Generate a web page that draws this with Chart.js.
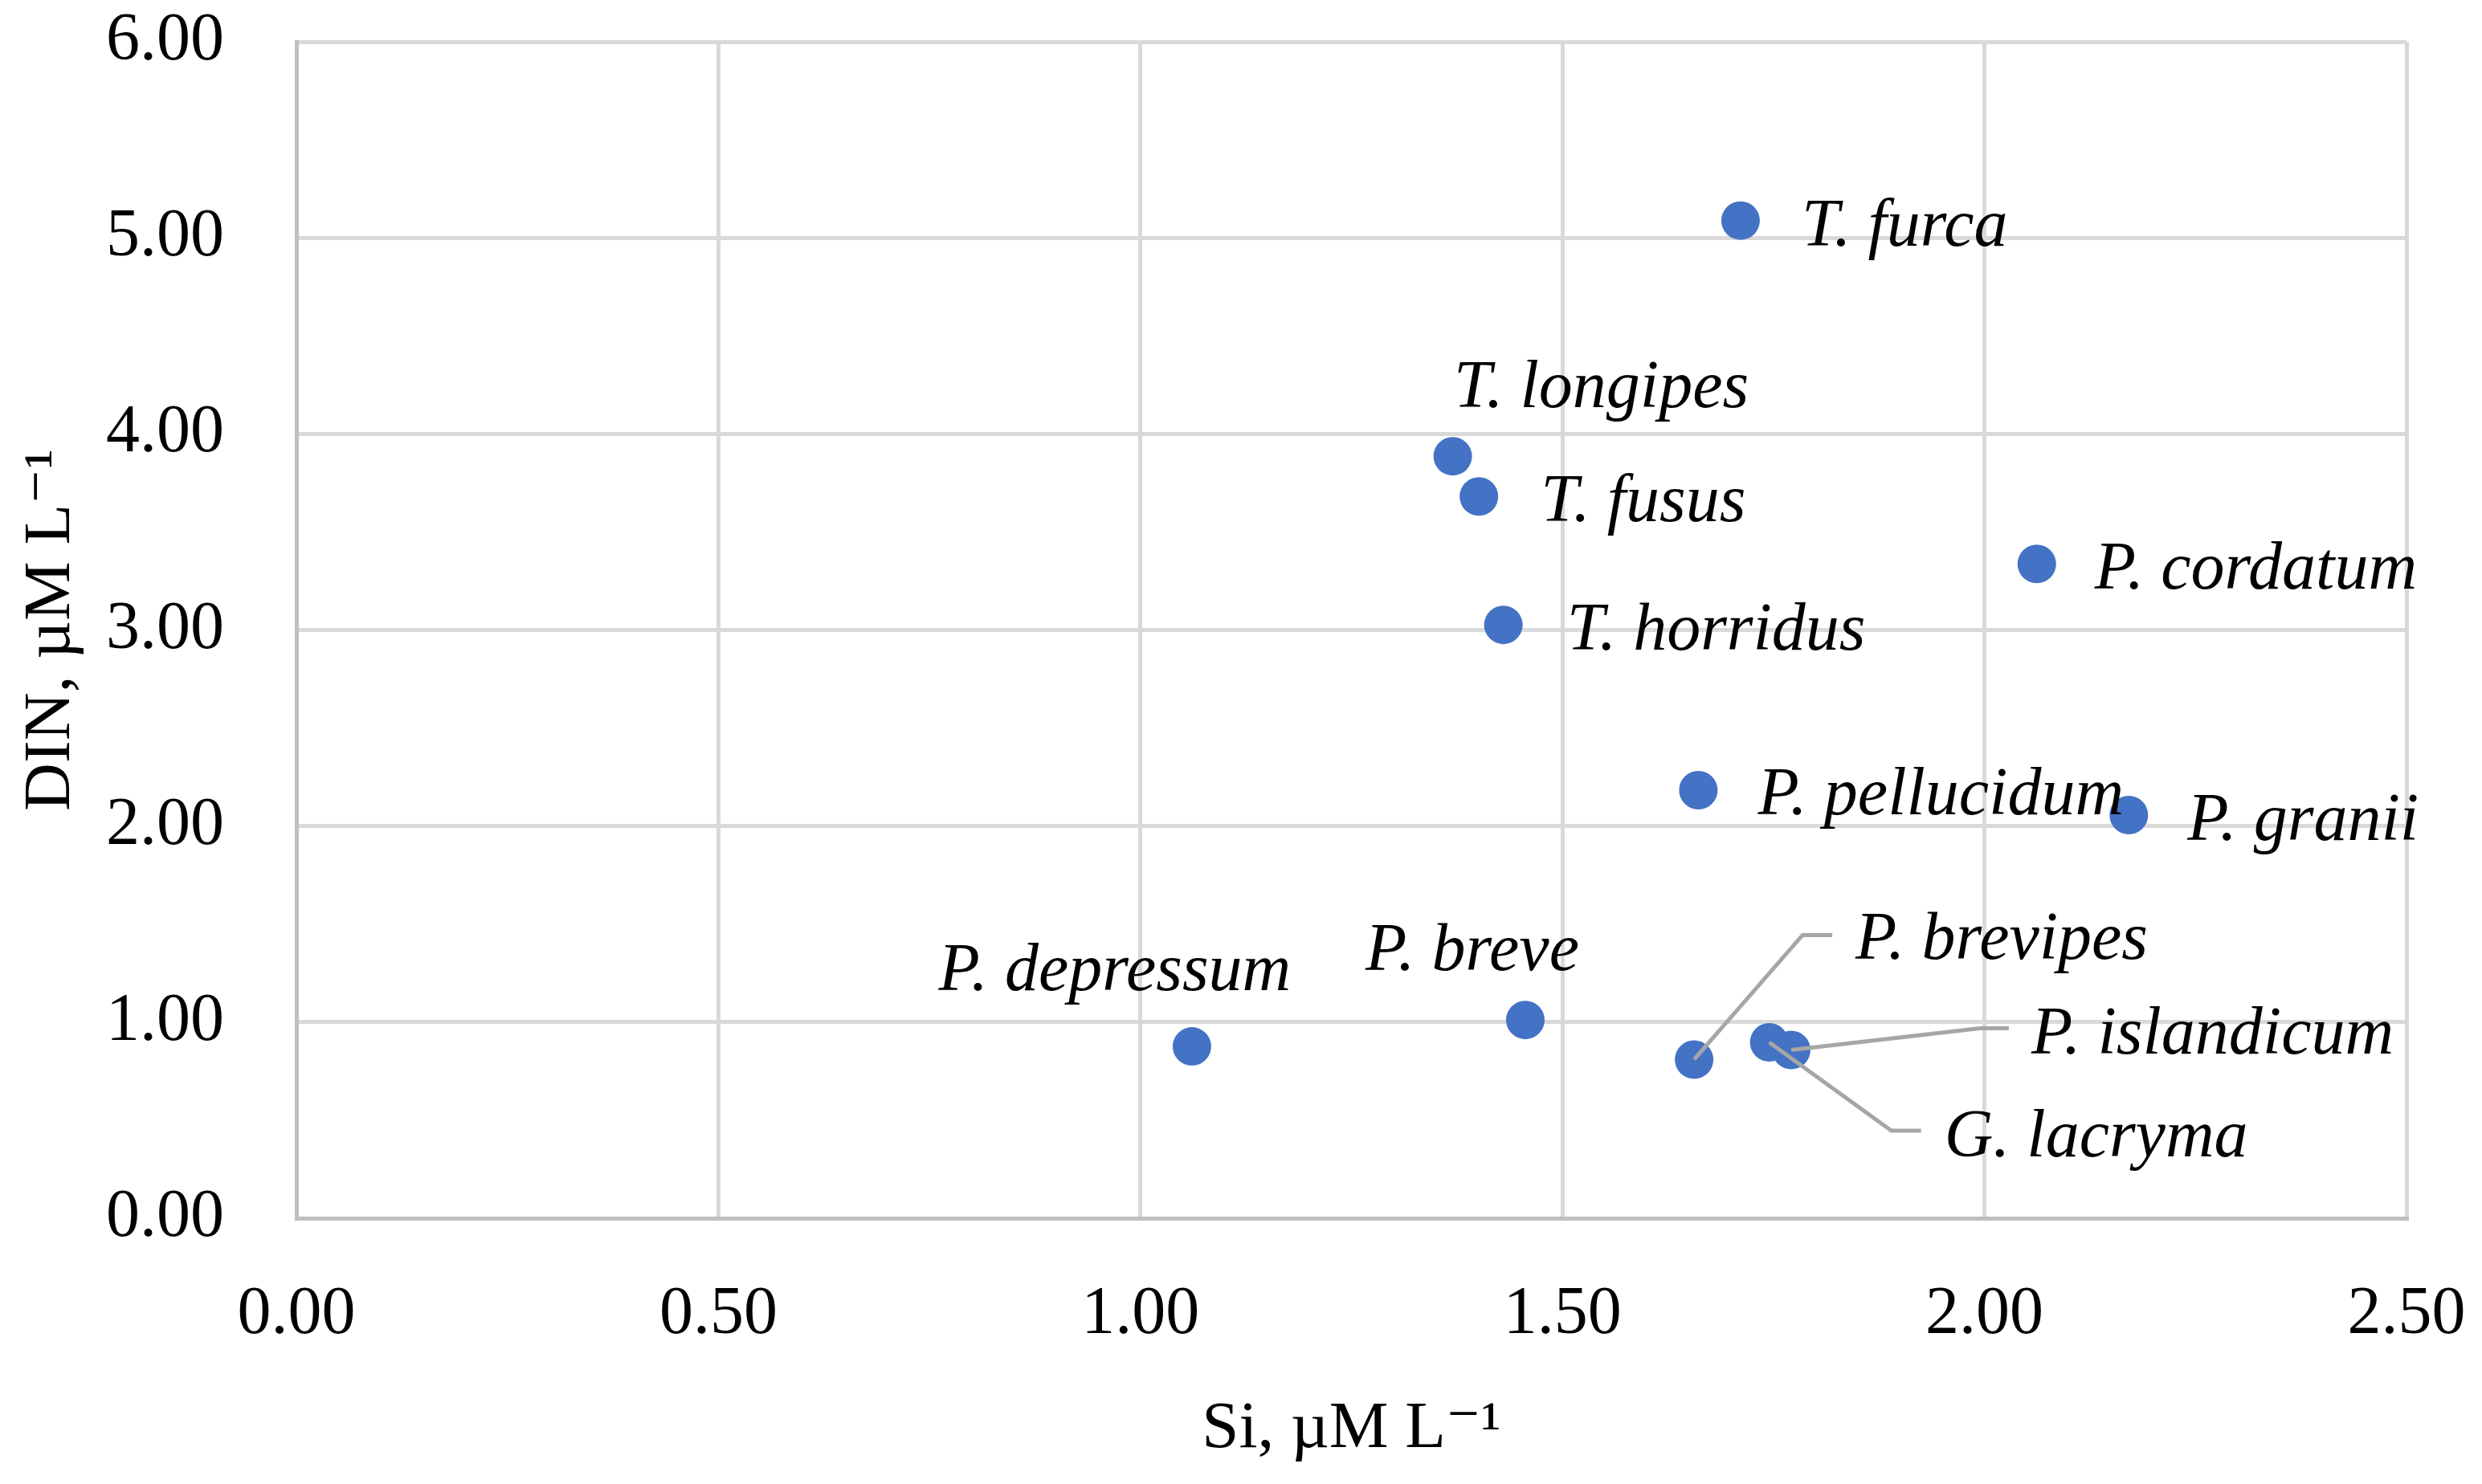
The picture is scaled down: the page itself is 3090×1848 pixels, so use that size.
<!DOCTYPE html>
<html>
<head>
<meta charset="utf-8">
<script src="https://cdn.jsdelivr.net/npm/chart.js@4.4.1/dist/chart.umd.min.js"></script>
<style>
  html, body { margin: 0; padding: 0; background: #ffffff; }
  canvas { display: block; }
</style>
</head>
<body>
<canvas id="myChart" width="3090" height="1848"></canvas>
<script>
// species names, Si (x) and DIN (y)
const species = ['T. furca', 'T. longipes', 'T. fusus', 'T. horridus', 'P. cordatum', 'P. pellucidum',
                 'P. granii', 'P. depressum', 'P. breve', 'P. brevipes', 'P. islandicum', 'G. lacryma'];
const siValues = [1.711, 1.370, 1.401, 1.430, 2.062, 1.661, 2.171, 1.061, 1.456, 1.656, 1.771, 1.745];
const dinValues = [5.088, 3.886, 3.681, 3.026, 3.337, 2.183, 2.056, 0.876, 1.011, 0.809, 0.858, 0.897];

const xTickLabels = ['0.00', '0.50', '1.00', '1.50', '2.00', '2.50'];
const yTickLabels = ['0.00', '1.00', '2.00', '3.00', '4.00', '5.00', '6.00'];

// label placement, pixels from the point centre: [dx, dy, align]
const labelOffsets = [
  [76, 31, 'left'], [185, -61, 'center'], [77, 31, 'left'], [79, 31, 'left'],
  [72, 31, 'left'], [74, 30, 'left'], [73, 31, 'left'], [-96, -70, 'center'],
  [-66, -62, 'center'], [201, -125, 'left'], [299, 4, 'left'], [218, 142, 'left']
];
// leader lines for the crowded points: index -> [elbow dx, dy, end dx, dy]
const leaders = {
  9: [135, -155, 172, -155],
  10: [235, -27, 271, -27],
  11: [152, 110, 189, 110]
};

const serif = "'Liberation Serif', 'DejaVu Serif', serif";

const pointLabels = {
  id: 'pointLabels',
  afterDatasetsDraw(chart) {
    const ctx = chart.ctx;
    const pts = chart.getDatasetMeta(0).data;
    ctx.save();
    // leaders first
    ctx.strokeStyle = '#a6a6a6';
    ctx.lineWidth = 5;
    ctx.lineJoin = 'miter';
    for (const k in leaders) {
      const p = pts[k];
      const l = leaders[k];
      ctx.beginPath();
      ctx.moveTo(p.x, p.y);
      ctx.lineTo(p.x + l[0], p.y + l[1]);
      ctx.lineTo(p.x + l[2], p.y + l[3]);
      ctx.stroke();
    }
    ctx.fillStyle = '#000000';
    ctx.font = 'italic 84px ' + serif;
    ctx.textBaseline = 'alphabetic';
    for (let i = 0; i < species.length; i++) {
      const p = pts[i];
      const o = labelOffsets[i];
      ctx.textAlign = o[2];
      ctx.fillText(species[i], p.x + o[0], p.y + o[1]);
    }
    ctx.restore();
  }
};

const data = {
  datasets: [{
    label: 'Species',
    data: siValues.map((v, i) => ({x: v, y: dinValues[i]})),
    backgroundColor: '#4472C4',
    borderWidth: 0,
    pointRadius: 24,
    pointHoverRadius: 24
  }]
};

const config = {
  type: 'scatter',
  data: data,
  options: {
    responsive: false,
    devicePixelRatio: 1,
    animation: false,
    layout: { padding: { left: 0, right: 94, top: 52, bottom: 0 } },
    plugins: {
      legend: { display: false },
      tooltip: { enabled: false }
    },
    scales: {
      x: {
        type: 'linear',
        min: 0,
        max: 2.5,
        // tick padding is big, so don't let it eat into the plot area
        afterFit: (scale) => {
          scale.height = 331;
          scale.paddingLeft = 0;
          scale.paddingRight = 0;
        },
        ticks: {
          stepSize: 0.5,
          padding: 71,
          color: '#000000',
          font: { family: serif, size: 84 },
          callback: (v, i) => xTickLabels[i]
        },
        grid: { color: '#d9d9d9', lineWidth: 5, drawTicks: false },
        border: { color: '#bfbfbf', width: 5 },
        title: {
          display: true,
          text: 'Si, µM L⁻¹',
          color: '#000000',
          font: { family: serif, size: 83 },
          padding: { top: 0, bottom: 18 }
        }
      },
      y: {
        type: 'linear',
        min: 0,
        max: 6,
        afterFit: (scale) => {
          scale.width = 369;
          scale.paddingTop = 0;
          scale.paddingBottom = 0;
        },
        ticks: {
          stepSize: 1,
          padding: 90,
          color: '#000000',
          font: { family: serif, size: 84 },
          callback: (v, i) => yTickLabels[i]
        },
        grid: { color: '#d9d9d9', lineWidth: 5, drawTicks: false },
        border: { color: '#bfbfbf', width: 5 },
        title: {
          display: true,
          text: 'DIN, µM L⁻¹',
          color: '#000000',
          font: { family: serif, size: 83 },
          padding: { top: 14, bottom: 0 }
        }
      }
    }
  },
  plugins: [pointLabels]
};

const myChart = new Chart(document.getElementById('myChart'), config);
</script>
</body>
</html>
